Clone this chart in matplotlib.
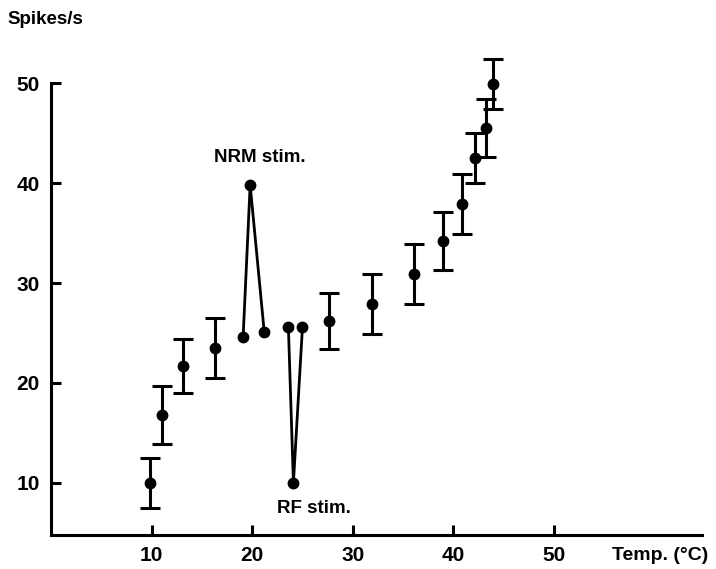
import matplotlib
matplotlib.use("Agg")
import matplotlib.pyplot as plt

# mean firing rate with error bars
temp = [9.8, 11.0, 13.1, 16.3, 27.6, 31.9, 36.1, 39.0, 40.9, 42.2, 43.2, 43.9]
rate = [10.0, 16.8, 21.7, 23.5, 26.2, 27.9, 30.9, 34.2, 37.9, 42.5, 45.5, 49.9]
err = [2.5, 2.9, 2.7, 3.0, 2.8, 3.0, 3.0, 2.9, 3.0, 2.5, 2.9, 2.5]

# NRM stimulation excursion
nrm_temp = [19.1, 19.8, 21.2]
nrm_rate = [24.6, 39.8, 25.1]

# RF stimulation excursion
rf_temp = [23.6, 24.1, 25.0]
rf_rate = [25.6, 10.0, 25.6]

plt.rcParams['font.family'] = ['Liberation Sans', 'DejaVu Sans']
plt.rcParams['font.weight'] = 'bold'

fig = plt.figure(figsize=(7.16, 5.69), dpi=100)
ax = fig.add_axes([0.0712, 0.0598, 0.909, 0.847])

ax.errorbar(temp, rate, yerr=err, fmt='o', color='black', ms=7.5,
            elinewidth=2.2, capsize=7, capthick=2.2, clip_on=False)
ax.plot(nrm_temp, nrm_rate, '-o', color='black', lw=2.0, ms=7.5)
ax.plot(rf_temp, rf_rate, '-o', color='black', lw=2.0, ms=7.5)

ax.text(20.8, 41.7, 'NRM stim.', ha='center', va='bottom', fontsize=13.5)
ax.text(26.1, 8.3, 'RF stim.', ha='center', va='top', fontsize=13.5)

ax.set_xlim(0, 64.7)
ax.set_ylim(4.8, 53)
ax.set_xticks([10, 20, 30, 40, 50])
ax.set_yticks([10, 20, 30, 40, 50])

for s in ['top', 'right']:
    ax.spines[s].set_visible(False)
for s in ['left', 'bottom']:
    ax.spines[s].set_linewidth(2.2)
ax.spines['left'].set_bounds(4.8, 50)

ax.tick_params(direction='in', length=7, width=2.2, labelsize=15)
ax.tick_params(axis='x', pad=8)
ax.tick_params(axis='y', pad=8)

fig.text(0.010, 0.965, 'Spikes/s', fontsize=13.5, ha='left', va='center')
fig.text(0.855, 0.024, 'Temp. (°C)', fontsize=14, ha='left', va='center')

fig.savefig('out.png', dpi=100)
